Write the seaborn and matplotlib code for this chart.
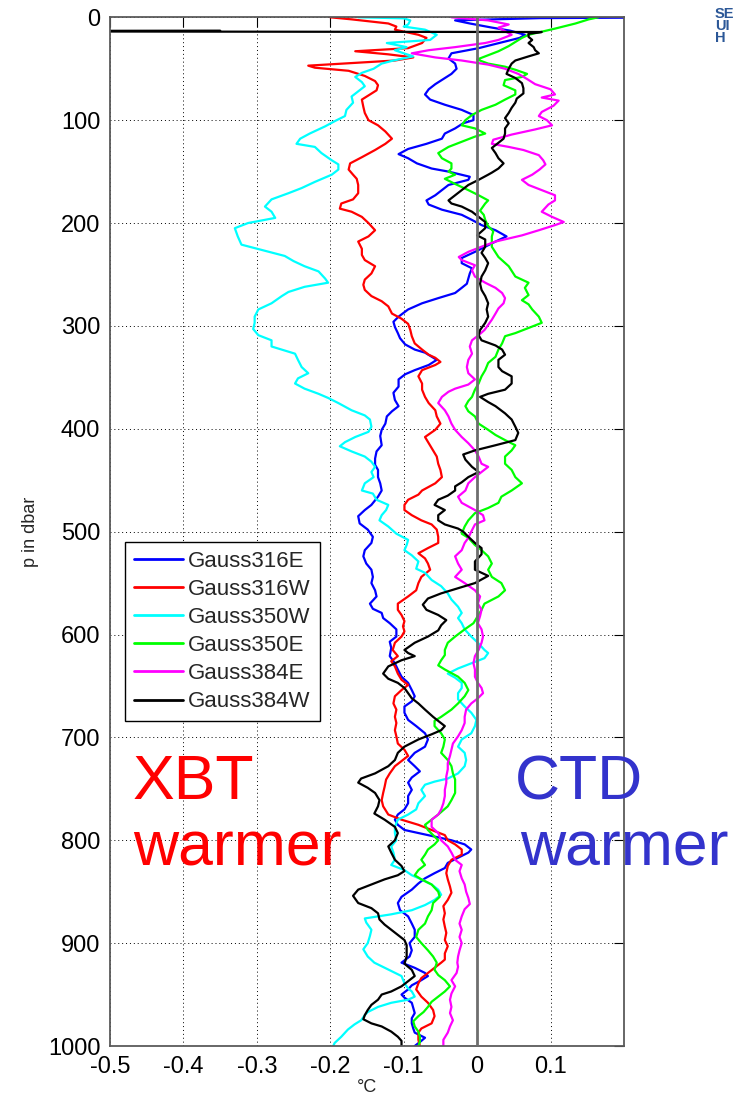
import numpy as np
import pandas as pd
import matplotlib
matplotlib.use("Agg")
import matplotlib.pyplot as plt
import seaborn as sns

# ---------------- data ----------------
names = ["Gauss316E", "Gauss316W", "Gauss350W", "Gauss350E", "Gauss384E", "Gauss384W"]
colors = ["#0000FF", "#FF0000", "#00FFFF", "#00FF00", "#FF00FF", "#000000"]

p_316E = [0, 0.8, 3, 6, 10, 13, 17, 20, 25, 30, 35, 40, 45, 50, 55, 60, 65, 70, 75, 80, 85, 90, 95, 100,
          103, 108, 113, 118, 123, 128, 133, 137, 142, 147, 150, 155, 158, 163, 168, 173, 178, 182, 187,
          192, 197, 202, 207, 213, 218, 223, 228, 234, 239, 244, 249, 254, 259, 263, 268, 273, 278, 284,
          291, 296, 301, 307, 312, 318, 323, 326, 333, 338, 343, 347, 352, 359, 365, 372, 378, 383, 388,
          395, 401, 407, 416, 422, 429, 435, 440, 447, 453, 460, 466, 474, 479, 485, 492, 498, 505, 511,
          518, 524, 531, 537, 544, 550, 557, 563, 570, 575, 579, 584, 589, 595, 602, 607, 613, 621, 628,
          634, 641, 647, 654, 660, 665, 670, 676, 683, 689, 696, 702, 709, 715, 722, 728, 733, 739, 744,
          751, 757, 764, 770, 775, 780, 785, 790, 795, 800, 804, 809, 812, 817, 822, 827, 832, 837, 842,
          848, 855, 861, 868, 874, 881, 887, 894, 900, 907, 913, 919, 924, 929, 932, 936, 941, 945, 950,
          953, 958, 963, 968, 973, 978, 983, 987, 992, 995, 1000]
t_316E = [0.30, 0.085, -0.03, -0.01, 0.02, 0.045, 0.065, 0.058, 0.03, 0.002, -0.035, -0.039, -0.03, -0.028,
          -0.035, -0.046, -0.057, -0.066, -0.071, -0.064, -0.044, -0.021, -0.005, -0.005,
          -0.019, -0.03, -0.044, -0.048, -0.069, -0.094, -0.107, -0.094, -0.082, -0.062, -0.039, -0.01,
          -0.012, -0.039, -0.048, -0.057, -0.069, -0.066, -0.048,
          -0.021, -0.007, 0.006, 0.025, 0.04, 0.025, 0.011, -0.003, -0.021, -0.021, -0.007, -0.01, -0.012,
          -0.014, -0.021, -0.03, -0.053, -0.075, -0.094,
          -0.107, -0.114, -0.112, -0.108, -0.105, -0.098, -0.085, -0.071, -0.055, -0.066, -0.085, -0.098,
          -0.107, -0.107, -0.114, -0.112, -0.107, -0.116, -0.123,
          -0.125, -0.13, -0.132, -0.13, -0.137, -0.139, -0.139, -0.135, -0.135, -0.132, -0.13, -0.135,
          -0.144, -0.153, -0.162, -0.16, -0.149, -0.142, -0.144,
          -0.153, -0.155, -0.151, -0.144, -0.142, -0.144, -0.139, -0.137, -0.146, -0.142, -0.13, -0.128,
          -0.119, -0.11, -0.11, -0.119, -0.117, -0.119, -0.112,
          -0.108, -0.103, -0.094, -0.089, -0.085, -0.089, -0.099, -0.099, -0.094, -0.083, -0.071, -0.067,
          -0.071, -0.085, -0.094, -0.085, -0.078, -0.089, -0.094,
          -0.089, -0.094, -0.094, -0.099, -0.108, -0.112, -0.108, -0.099, -0.067, -0.035, -0.017, -0.008,
          -0.012, -0.026, -0.04, -0.044, -0.058, -0.071, -0.08,
          -0.089, -0.103, -0.108, -0.105, -0.094, -0.089, -0.085, -0.085, -0.092, -0.089, -0.092, -0.103,
          -0.085, -0.071, -0.067, -0.076, -0.089, -0.094, -0.103,
          -0.099, -0.089, -0.087, -0.085, -0.089, -0.089, -0.087, -0.085, -0.071, -0.076, -0.085]

p_316W = [0, 2, 6, 9, 12, 17, 20, 25, 30, 33, 36, 39, 42, 47, 49, 52, 57, 62, 66, 71, 76, 80, 87, 93, 100,
          105, 111, 118, 123, 129, 136, 142, 148, 153, 157, 163, 171, 177, 181, 186, 189, 194, 200, 207,
          213, 218, 225, 231, 236, 242, 249, 255, 260, 265, 271, 276, 281, 288, 293, 298, 304, 310, 317,
          323, 328, 331, 335, 338, 343, 349, 356, 362, 369, 375, 382, 388, 395, 401, 408, 414, 421, 427,
          434, 440, 447, 453, 460, 464, 469, 474, 479, 484, 489, 493, 498, 505, 511, 516, 521, 526, 531,
          537, 544, 550, 557, 563, 570, 576, 581, 587, 592, 597, 602, 608, 615, 621, 626, 631, 638, 644,
          649, 654, 660, 667, 673, 680, 686, 693, 699, 706, 712, 718, 723, 728, 735, 741, 748, 754, 761,
          767, 775, 780, 785, 790, 795, 800, 804, 809, 814, 819, 825, 832, 838, 845, 851, 858, 864, 871,
          877, 884, 890, 897, 903, 910, 916, 919, 924, 929, 934, 939, 945, 952, 958, 965, 971, 978, 983,
          987, 994, 1000]
t_316W = [-0.2, -0.171, -0.121, -0.11, -0.112, -0.08, -0.069, -0.075, -0.094, -0.166, -0.121, -0.087,
          -0.112, -0.23, -0.221, -0.175, -0.153, -0.139, -0.135, -0.137, -0.148, -0.157, -0.155, -0.153,
          -0.148, -0.135, -0.125, -0.116, -0.125, -0.139, -0.157, -0.173, -0.175, -0.169, -0.164, -0.162,
          -0.162, -0.169, -0.185, -0.187, -0.171, -0.157, -0.148, -0.139,
          -0.148, -0.162, -0.157, -0.157, -0.153, -0.139, -0.144, -0.153, -0.155, -0.153, -0.144, -0.13,
          -0.121, -0.116, -0.103, -0.094, -0.091, -0.089, -0.085,
          -0.075, -0.066, -0.057, -0.05, -0.057, -0.075, -0.08, -0.075, -0.075, -0.071, -0.066, -0.057,
          -0.055, -0.05, -0.057, -0.071, -0.066, -0.06, -0.055,
          -0.053, -0.05, -0.048, -0.057, -0.075, -0.08, -0.094, -0.099, -0.099, -0.089, -0.076, -0.062,
          -0.055, -0.053, -0.053, -0.067, -0.08, -0.071, -0.067,
          -0.064, -0.076, -0.08, -0.083, -0.094, -0.108, -0.108, -0.103, -0.099, -0.101, -0.099, -0.103,
          -0.112, -0.115, -0.108, -0.117, -0.112, -0.108, -0.103,
          -0.094, -0.103, -0.112, -0.114, -0.11, -0.112, -0.11, -0.112, -0.11, -0.108, -0.099, -0.094,
          -0.103, -0.112, -0.119, -0.124, -0.126, -0.128, -0.13,
          -0.128, -0.121, -0.103, -0.08, -0.062, -0.044, -0.04, -0.03, -0.021, -0.021, -0.035, -0.04,
          -0.042, -0.04, -0.037, -0.035, -0.04, -0.046, -0.044,
          -0.046, -0.044, -0.042, -0.044, -0.04, -0.044, -0.044, -0.049, -0.058, -0.067, -0.076, -0.08,
          -0.083, -0.076, -0.067, -0.06, -0.058, -0.062, -0.076,
          -0.08, -0.08, -0.078]

p_350W = [0, 1, 3, 7, 9, 12, 17, 22, 25, 29, 32, 35, 38, 42, 45, 50, 54, 58, 63, 67, 72, 77, 83, 90, 96,
          101, 106, 113, 118, 123, 126, 132, 139, 143, 148, 153, 160, 166, 171, 177, 184, 189, 195, 200,
          205, 213, 221, 226, 232, 237, 242, 247, 254, 258, 262, 267, 271, 278, 284, 291, 297, 303, 309,
          314, 320, 327, 333, 340, 346, 351, 356, 361, 366, 370, 375, 382, 387, 391, 398, 403, 408, 413,
          417, 422, 427, 432, 437, 442, 447, 453, 460, 463, 469, 474, 479, 484, 489, 495, 502, 508, 513,
          518, 523, 529, 536, 540, 547, 553, 560, 566, 573, 579, 584, 589, 595, 602, 608, 615, 618, 623,
          628, 633, 638, 642, 647, 652, 657, 663, 670, 676, 683, 689, 696, 702, 709, 715, 722, 728, 735,
          740, 743, 746, 751, 757, 764, 770, 775, 780, 787, 793, 800, 806, 812, 819, 824, 829, 834, 838,
          843, 848, 853, 858, 863, 868, 872, 876, 880, 887, 893, 900, 906, 913, 919, 926, 932, 939, 944,
          947, 952, 955, 958, 962, 967, 970, 975, 979, 984, 991, 997, 1000]
t_350W = [-0.162, -0.1, -0.091, -0.094, -0.1, -0.071, -0.055, -0.064, -0.123, -0.096, -0.112, -0.1, -0.087,
          -0.114, -0.13, -0.141, -0.157, -0.166, -0.157, -0.153, -0.162, -0.171, -0.169, -0.178, -0.18,
          -0.194, -0.207, -0.228, -0.241, -0.246, -0.221, -0.212, -0.198, -0.189, -0.189, -0.198, -0.221,
          -0.239, -0.257, -0.28, -0.289, -0.28, -0.275, -0.312,
          -0.33, -0.326, -0.321, -0.294, -0.262, -0.25, -0.235, -0.216, -0.207, -0.203, -0.235, -0.257,
          -0.266, -0.28, -0.298, -0.303, -0.303, -0.305, -0.298,
          -0.28, -0.28, -0.248, -0.244, -0.239, -0.23, -0.244, -0.248, -0.235, -0.216, -0.203, -0.189,
          -0.171, -0.153, -0.146, -0.144, -0.148, -0.166, -0.18,
          -0.187, -0.171, -0.153, -0.144, -0.139, -0.144, -0.141, -0.153, -0.157, -0.142, -0.137, -0.121,
          -0.124, -0.13, -0.133, -0.121, -0.11, -0.094, -0.096,
          -0.099, -0.089, -0.08, -0.083, -0.071, -0.062, -0.049, -0.04, -0.035, -0.026, -0.021, -0.026,
          -0.021, -0.017, -0.008, 0.001, 0.01, 0.015, 0.01,
          -0.008, -0.026, -0.04, -0.03, -0.021, -0.021, -0.026, -0.026, -0.017, -0.008, -0.001, -0.003,
          -0.008, -0.021, -0.026, -0.017, -0.015, -0.017, -0.026,
          -0.04, -0.058, -0.071, -0.076, -0.071, -0.08, -0.083, -0.094, -0.108, -0.112, -0.112, -0.11,
          -0.117, -0.114, -0.112, -0.117, -0.099, -0.089, -0.076,
          -0.062, -0.053, -0.049, -0.058, -0.071, -0.089, -0.117, -0.153, -0.151, -0.144, -0.146, -0.149,
          -0.155, -0.149, -0.14, -0.12, -0.103, -0.099, -0.094,
          -0.089, -0.085, -0.094, -0.117, -0.135, -0.149, -0.153, -0.158, -0.167, -0.176, -0.185, -0.194,
          -0.196]

p_350E = [0, 2, 6, 11, 14, 17, 20, 24, 28, 33, 38, 41, 45, 48, 51, 55, 58, 61, 66, 71, 75, 80, 85, 90, 95,
          100, 105, 108, 113, 116, 121, 126, 132, 137, 142, 147, 150, 153, 157, 162, 168, 173, 178, 181,
          188, 192, 197, 203, 208, 213, 223, 233, 242, 252, 258, 263, 270, 275, 279, 284, 291, 297, 302,
          307, 310, 317, 323, 330, 336, 343, 349, 356, 362, 369, 373, 378, 383, 388, 395, 401, 406, 411,
          416, 421, 427, 434, 440, 447, 453, 460, 466, 472, 477, 482, 489, 495, 502, 506, 513, 518, 524,
          531, 537, 544, 550, 557, 563, 570, 576, 582, 589, 595, 602, 608, 615, 620, 625, 630, 634, 641,
          647, 654, 660, 667, 673, 680, 684, 689, 696, 702, 709, 715, 722, 728, 735, 741, 748, 754, 761,
          767, 775, 780, 785, 790, 795, 800, 804, 809, 814, 819, 824, 829, 834, 838, 843, 850, 855, 861,
          868, 874, 881, 887, 894, 900, 907, 913, 919, 926, 931, 936, 942, 947, 952, 957, 962, 967, 971,
          976, 981, 986, 991, 996, 1000]
t_350E = [0.165, 0.152, 0.134, 0.106, 0.088, 0.07, 0.061, 0.052, 0.043, 0.029, 0.011, 0.0, 0.015, 0.038,
          0.052, 0.068, 0.061, 0.038, 0.036, 0.052, 0.052, 0.038, 0.025, 0.006, -0.007,
          -0.016, -0.021, -0.003, 0.011, -0.003, -0.021, -0.039, -0.053, -0.048, -0.035, -0.035, -0.039,
          -0.03, -0.044, -0.03, -0.012, 0.002, 0.015, 0.011,
          0.004, 0.009, 0.011, 0.015, 0.022, 0.02, 0.02, 0.029, 0.043, 0.052, 0.07, 0.065, 0.07, 0.061,
          0.07, 0.075, 0.084, 0.088, 0.07,
          0.052, 0.038, 0.034, 0.029, 0.025, 0.015, 0.011, 0.006, 0.002, -0.003, -0.007, -0.012, -0.016,
          -0.012, -0.003, 0.002, 0.015, 0.025, 0.038,
          0.052, 0.047, 0.038, 0.038, 0.047, 0.052, 0.061, 0.047, 0.033, 0.029, 0.015, -0.003, -0.012,
          -0.017, -0.021, -0.012, -0.003, 0.006, 0.015,
          0.02, 0.015, 0.02, 0.033, 0.038, 0.029, 0.01, 0.006, 0.001, -0.005, -0.017, -0.03, -0.04, -0.044,
          -0.044, -0.049, -0.053, -0.044, -0.026,
          -0.017, -0.012, -0.017, -0.026, -0.035, -0.049, -0.058, -0.058, -0.049, -0.044, -0.046, -0.049,
          -0.04, -0.035, -0.033, -0.03, -0.03, -0.03, -0.035,
          -0.04, -0.053, -0.062, -0.071, -0.067, -0.06, -0.053, -0.058, -0.067, -0.071, -0.076, -0.071,
          -0.08, -0.085, -0.076, -0.062, -0.053, -0.051, -0.06,
          -0.062, -0.067, -0.071, -0.08, -0.083, -0.076, -0.067, -0.06, -0.055, -0.058, -0.053, -0.044,
          -0.037, -0.044, -0.053, -0.062, -0.067, -0.073, -0.08,
          -0.087, -0.085, -0.08, -0.078, -0.078, -0.08]

p_384E = [0, 3, 7, 10, 17, 22, 25, 29, 32, 35, 39, 42, 46, 50, 55, 60, 65, 70, 75, 78, 81, 86, 92, 96,
          100, 105, 109, 114, 119, 123, 126, 129, 134, 139, 143, 148, 153, 158, 163, 168, 173, 178, 182,
          189, 194, 199, 202, 207, 212, 215, 218, 223, 228, 233, 236, 241, 246, 252, 258, 263, 268, 273,
          278, 283, 288, 294, 299, 304, 309, 314, 320, 327, 333, 340, 346, 352, 357, 361, 364, 369, 375,
          382, 388, 395, 401, 408, 414, 421, 427, 434, 437, 442, 447, 453, 460, 466, 472, 479, 484, 489,
          493, 500, 506, 511, 518, 524, 531, 537, 544, 550, 557, 563, 570, 576, 582, 589, 595, 602, 608,
          615, 621, 628, 634, 641, 647, 652, 657, 662, 667, 673, 680, 686, 693, 699, 706, 712, 718, 725,
          731, 738, 744, 751, 757, 764, 770, 775, 780, 787, 793, 800, 806, 812, 819, 824, 830, 837, 843,
          850, 856, 862, 867, 874, 881, 887, 894, 900, 907, 913, 919, 923, 929, 936, 942, 949, 955, 962,
          968, 975, 981, 987, 994, 1000]
t_384E = [-0.035, 0.015, 0.043, 0.029, 0.047, 0.029, 0.011, -0.03, -0.066, -0.089, -0.057, -0.021, 0.015,
          0.038, 0.056, 0.068, 0.079, 0.1, 0.106, 0.088, 0.111, 0.104, 0.088, 0.084,
          0.095, 0.102, 0.079, 0.047, 0.022, 0.02, 0.043, 0.063, 0.084, 0.09, 0.093, 0.085, 0.075, 0.061,
          0.07, 0.088, 0.106, 0.106, 0.097,
          0.088, 0.102, 0.118, 0.106, 0.084, 0.061, 0.043, 0.025, 0.006, -0.012, -0.025, -0.021, -0.003,
          -0.007, -0.003, 0.011, 0.025, 0.034, 0.038,
          0.036, 0.029, 0.025, 0.02, 0.015, 0.01, 0.002, -0.007, -0.01, -0.007, -0.012, -0.014, -0.012,
          -0.003, -0.012, -0.03, -0.039, -0.048, -0.053,
          -0.044, -0.039, -0.035, -0.03, -0.021, -0.012, -0.003, 0.002, 0.006, 0.015, 0.006, -0.003,
          -0.012, -0.016, -0.026, -0.021, -0.003, 0.008, 0.01,
          -0.003, -0.008, -0.012, -0.017, -0.021, -0.03, -0.026, -0.021, -0.03, -0.017, -0.003, 0.004,
          0.001, 0.006, 0.004, 0.001, 0.006, 0.008, 0.006,
          0.002, -0.003, -0.005, -0.003, -0.003, 0.001, 0.006, 0.008, 0.001, -0.008, -0.015, -0.017,
          -0.017, -0.021, -0.026, -0.033, -0.035, -0.037, -0.04,
          -0.04, -0.042, -0.042, -0.044, -0.044, -0.046, -0.049, -0.053, -0.062, -0.062, -0.053, -0.049,
          -0.04, -0.035, -0.03, -0.021, -0.024, -0.021, -0.017,
          -0.015, -0.012, -0.01, -0.017, -0.021, -0.024, -0.021, -0.024, -0.021, -0.024, -0.026, -0.027,
          -0.026, -0.028, -0.035, -0.03, -0.035, -0.037, -0.035,
          -0.037, -0.033, -0.037, -0.04, -0.046, -0.046]

p_384W = [13.0, 13.5, 14.3, 16, 19, 22, 25, 29, 32, 35, 38, 42, 45, 50, 55, 59, 64, 69, 74, 79, 83, 88, 93,
          98, 103, 108, 113, 118, 122, 127, 132, 137, 142, 147, 151, 153, 158, 163, 168, 173, 178, 181,
          184, 189, 194, 199, 205, 212, 216, 223, 229, 234, 239, 246, 252, 259, 265, 271, 278, 284, 291,
          297, 304, 309, 314, 319, 323, 328, 333, 340, 344, 349, 356, 362, 366, 369, 374, 378, 385, 391,
          398, 404, 411, 416, 421, 425, 430, 437, 442, 447, 452, 456, 460, 465, 469, 474, 479, 484, 489,
          493, 497, 500, 505, 511, 516, 522, 529, 537, 543, 550, 555, 560, 565, 571, 576, 581, 586, 591,
          596, 602, 608, 615, 618, 621, 625, 631, 638, 643, 647, 652, 657, 662, 667, 673, 680, 684, 689,
          693, 697, 702, 709, 715, 722, 728, 735, 740, 744, 749, 754, 761, 767, 774, 780, 787, 793, 800,
          806, 812, 819, 825, 830, 834, 838, 843, 848, 854, 861, 866, 871, 877, 882, 887, 892, 897, 902,
          907, 913, 920, 926, 932, 937, 942, 947, 950, 955, 960, 965, 970, 974, 978, 981, 986, 991, 995,
          1000]
t_384W = [-0.35, -0.9, 0.088, 0.07, 0.07, 0.075, 0.07, 0.077, 0.079, 0.084, 0.07, 0.052, 0.047, 0.043,
          0.04, 0.052, 0.061, 0.063, 0.063, 0.054, 0.052, 0.047, 0.043,
          0.038, 0.043, 0.038, 0.038, 0.036, 0.029, 0.02, 0.025, 0.029, 0.036, 0.029, 0.02, 0.015, 0.002,
          -0.012, -0.021, -0.03, -0.039, -0.035,
          -0.021, -0.007, 0.002, 0.011, 0.011, 0.0, 0.011, 0.011, 0.006, 0.011, 0.015, 0.011, 0.006, 0.004,
          0.006, 0.011, 0.015, 0.013, 0.015,
          0.011, 0.004, 0.002, 0.006, 0.025, 0.034, 0.038, 0.029, 0.029, 0.034, 0.047, 0.047, 0.038, 0.015,
          0.004, 0.015, 0.025, 0.038, 0.047,
          0.052, 0.056, 0.052, 0.025, -0.003, -0.019, -0.016, -0.007, 0.002, -0.012, -0.021, -0.03, -0.03,
          -0.04, -0.053, -0.058, -0.044, -0.053, -0.053,
          -0.044, -0.026, -0.019, -0.012, -0.003, 0.006, 0.006, -0.003, -0.003, 0.015, -0.003, -0.026,
          -0.049, -0.067, -0.074, -0.069, -0.053, -0.042, -0.049,
          -0.053, -0.067, -0.085, -0.099, -0.094, -0.085, -0.103, -0.121, -0.128, -0.121, -0.108, -0.099,
          -0.094, -0.089, -0.08, -0.071, -0.06, -0.053, -0.044,
          -0.049, -0.062, -0.08, -0.099, -0.108, -0.112, -0.121, -0.139, -0.158, -0.162, -0.149, -0.139,
          -0.133, -0.135, -0.14, -0.126, -0.112, -0.108, -0.112,
          -0.121, -0.117, -0.112, -0.103, -0.099, -0.108, -0.126, -0.144, -0.162, -0.169, -0.162, -0.144,
          -0.135, -0.133, -0.126, -0.117, -0.108, -0.099, -0.096,
          -0.096, -0.096, -0.099, -0.089, -0.085, -0.094, -0.103, -0.117, -0.13, -0.135, -0.144, -0.149,
          -0.153, -0.155, -0.144, -0.13, -0.117, -0.108, -0.103,
          -0.103]

x_ticks = [-0.5, -0.4, -0.3, -0.2, -0.1, 0.0, 0.1]
x_ticklabels = ["-0.5", "-0.4", "-0.3", "-0.2", "-0.1", "0", "0.1"]
y_ticks = [0, 100, 200, 300, 400, 500, 600, 700, 800, 900, 1000]

# ---------------- figure ----------------
sns.set_theme(style="white")
plt.rcParams["font.family"] = ["Liberation Sans", "DejaVu Sans"]
plt.rcParams["axes.unicode_minus"] = False

profiles = [(p_316E, t_316E), (p_316W, t_316W), (p_350W, t_350W),
            (p_350E, t_350E), (p_384E, t_384E), (p_384W, t_384W)]
frames = []
for name, (p, t) in zip(names, profiles):
    frames.append(pd.DataFrame({"p": p, "dT": t, "cast": name}))
df = pd.concat(frames, ignore_index=True)

fig = plt.figure(figsize=(7.37, 10.95), dpi=100)
ax = fig.add_axes([110 / 737, 1 - 1046 / 1095, 514 / 737, 1028.7 / 1095])

sns.lineplot(data=df, x="dT", y="p", hue="cast", hue_order=names,
             palette=dict(zip(names, colors)), estimator=None, sort=False,
             linewidth=1.6, ax=ax, legend=True)

ax.set_xlim(-0.5, 0.2)
ax.set_ylim(1000, 0)
ax.set_xticks(x_ticks)
ax.set_xticklabels(x_ticklabels)
ax.set_yticks(y_ticks)
ax.set_yticklabels([str(v) for v in y_ticks])
ax.tick_params(direction="in", top=True, right=True, length=7, width=0.8,
               labelsize=17, colors="black", pad=7)
ax.grid(True, linestyle=(0, (1, 3)), color="black", linewidth=0.7)
ax.set_axisbelow(True)
for s in ax.spines.values():
    s.set_color("#5a5a5a")
    s.set_linewidth(1.3)

ax.axvline(0, color="#6e6e6e", linewidth=2.0, zorder=3)

ax.set_xlabel("°C", fontsize=13)
ax.set_ylabel("p in dbar", fontsize=13)
ax.xaxis.set_label_coords(0.5, -0.032)
ax.yaxis.set_label_coords(-0.138, 0.5)

handles, labels = ax.get_legend_handles_labels()
leg = ax.legend(handles, labels, loc="upper left", bbox_to_anchor=(0.029, 0.49),
                borderaxespad=0, fontsize=16, frameon=True, fancybox=False,
                edgecolor="black", framealpha=1, handlelength=2.2, handletextpad=0.25,
                labelspacing=0.32, borderpad=0.4)
leg.get_frame().set_linewidth(1.0)
for h in leg.get_lines():
    h.set_linewidth(2.0)

ax.text(-0.469, 760, "XBT", color="#FF0000", fontsize=45, va="baseline", ha="left", clip_on=False)
ax.text(-0.469, 825, "warmer", color="#FF0000", fontsize=45, va="baseline", ha="left", clip_on=False)
ax.text(0.051, 760, "CTD", color="#3333CC", fontsize=45, va="baseline", ha="left", clip_on=False)
ax.text(0.058, 825, "warmer", color="#3333CC", fontsize=45, va="baseline", ha="left", clip_on=False)

# partially visible logo text at the top-right edge (one multi-line text)
fig.text(715 / 737, 1 - 7 / 1095, "SE\nUI\nH", color="#2b5797", fontsize=10.5,
         fontweight="semibold", va="top", ha="left", linespacing=0.8)

fig.savefig("out.png", dpi=100)
